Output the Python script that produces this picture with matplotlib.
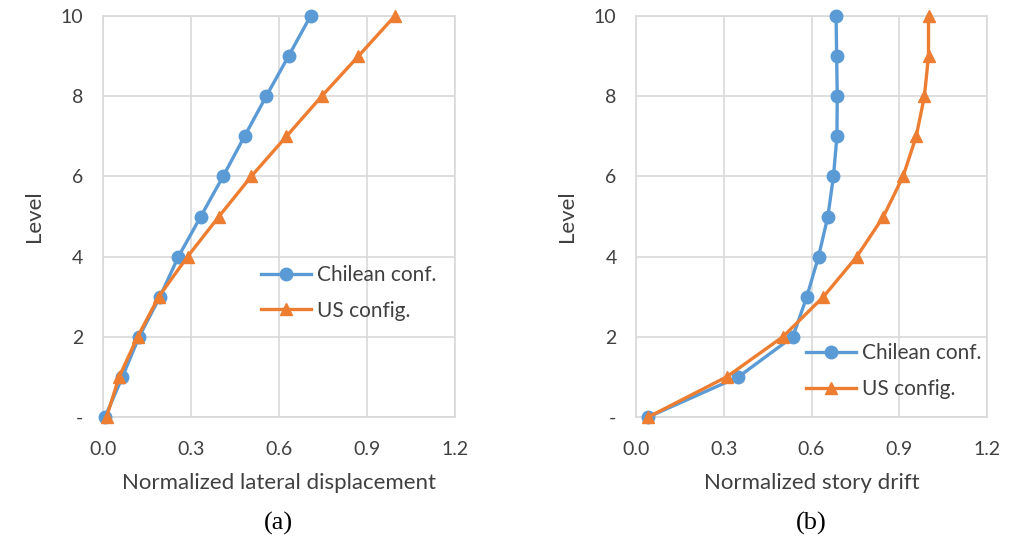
import matplotlib
matplotlib.use('Agg')
import matplotlib.pyplot as plt

levels = [0, 1, 2, 3, 4, 5, 6, 7, 8, 9, 10]

# (a) normalized lateral displacement
disp_chilean = [0.008, 0.067, 0.124, 0.195, 0.258, 0.334, 0.41, 0.483, 0.557, 0.633, 0.708]
disp_us = [0.013, 0.056, 0.119, 0.191, 0.289, 0.396, 0.506, 0.626, 0.746, 0.871, 0.995]

# (b) normalized story drift
drift_chilean = [0.042, 0.35, 0.536, 0.584, 0.624, 0.656, 0.675, 0.687, 0.688, 0.686, 0.684]
drift_us = [0.042, 0.31, 0.502, 0.641, 0.755, 0.846, 0.913, 0.958, 0.986, 1.0, 1.0]

x_ticks = [0.0, 0.3, 0.6, 0.9, 1.2]
y_ticks = [0, 2, 4, 6, 8, 10]
y_labels = ['-', '2', '4', '6', '8', '10']

blue = '#5B9BD5'
orange = '#ED7D31'
sans = 'Lato'
txt = '#404040'

fig = plt.figure(figsize=(10.14, 5.48), dpi=100)
ax1 = fig.add_axes([102.7 / 1014, 1 - 417 / 548, 352.3 / 1014, 401 / 548])
ax2 = fig.add_axes([636 / 1014, 1 - 417 / 548, 351 / 1014, 401 / 548])


def draw_panel(ax, xa, xb, xlabel, caption, legend_anchor):
    ax.plot(xa, levels, color=blue, lw=2.4, marker='o', ms=9, label='Chilean conf.', zorder=3, clip_on=False)
    ax.plot(xb, levels, color=orange, lw=2.4, marker='^', ms=9, label='US config.', zorder=3, clip_on=False)
    ax.set_xlim(0, 1.2)
    ax.set_ylim(0, 10)
    ax.set_xticks(x_ticks)
    ax.set_xticklabels([f'{t:.1f}' for t in x_ticks], fontsize=14, family=sans, color=txt)
    ax.set_yticks(y_ticks)
    ax.set_yticklabels(y_labels, fontsize=14, family=sans, color=txt)
    ax.tick_params(axis='x', length=0, pad=17)
    ax.tick_params(axis='y', length=0, pad=14)
    ax.grid(True, color='#d9d9d9', lw=1.2)
    for s in ax.spines.values():
        s.set_color('#d9d9d9')
        s.set_linewidth(1.2)
    ax.set_axisbelow(True)
    ax.set_xlabel(xlabel, fontsize=16, family=sans, color=txt, labelpad=11)
    ax.set_ylabel('Level', fontsize=16, family=sans, color=txt, labelpad=12)
    ax.legend(loc='upper left', bbox_to_anchor=legend_anchor, frameon=False,
              prop={'family': sans, 'size': 15}, handlelength=2.4, labelspacing=0.75,
              labelcolor=txt, borderpad=0, handletextpad=0.3)
    ax.text(0.5, -0.265, caption, transform=ax.transAxes, ha='center', va='center',
            fontsize=19, family='Liberation Serif')


draw_panel(ax1, disp_chilean, disp_us, 'Normalized lateral displacement', '(a)', (0.42, 0.405))
draw_panel(ax2, drift_chilean, drift_us, 'Normalized story drift', '(b)', (0.455, 0.21))

fig.savefig('out.png', dpi=100)
